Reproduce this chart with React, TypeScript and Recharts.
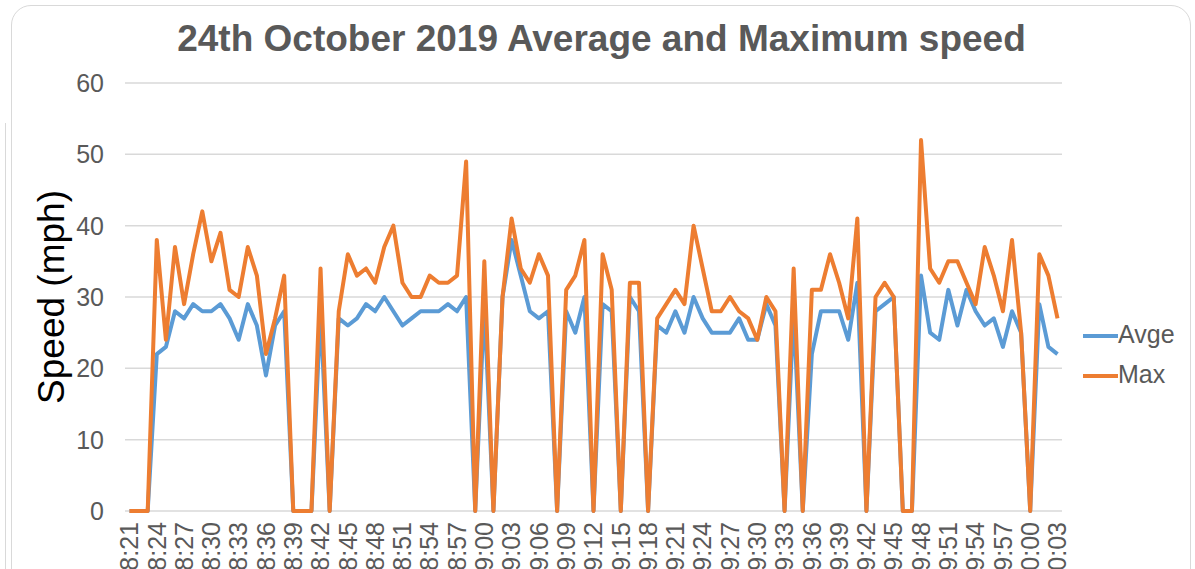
import React from 'react';
import { LineChart, Line, XAxis, YAxis, CartesianGrid } from 'recharts';

const times = [
  '08:21','08:22','08:23','08:24','08:25','08:26','08:27','08:28','08:29','08:30',
  '08:31','08:32','08:33','08:34','08:35','08:36','08:37','08:38','08:39','08:40',
  '08:41','08:42','08:43','08:44','08:45','08:46','08:47','08:48','08:49','08:50',
  '08:51','08:52','08:53','08:54','08:55','08:56','08:57','08:58','08:59','09:00',
  '09:01','09:02','09:03','09:04','09:05','09:06','09:07','09:08','09:09','09:10',
  '09:11','09:12','09:13','09:14','09:15','09:16','09:17','09:18','09:19','09:20',
  '09:21','09:22','09:23','09:24','09:25','09:26','09:27','09:28','09:29','09:30',
  '09:31','09:32','09:33','09:34','09:35','09:36','09:37','09:38','09:39','09:40',
  '09:41','09:42','09:43','09:44','09:45','09:46','09:47','09:48','09:49','09:50',
  '09:51','09:52','09:53','09:54','09:55','09:56','09:57','09:58','09:59','10:00',
  '10:01','10:02','10:03',
];

const avge = [
  0, 0, 0, 22, 23, 28, 27, 29, 28, 28,
  29, 27, 24, 29, 26, 19, 26, 28, 0, 0,
  0, 28, 0, 27, 26, 27, 29, 28, 30, 28,
  26, 27, 28, 28, 28, 29, 28, 30, 0, 29,
  0, 30, 38, 33, 28, 27, 28, 0, 28, 25,
  30, 0, 29, 28, 0, 30, 28, 0, 26, 25,
  28, 25, 30, 27, 25, 25, 25, 27, 24, 24,
  29, 26, 0, 28, 0, 22, 28, 28, 28, 24,
  32, 0, 28, 29, 30, 0, 0, 33, 25, 24,
  31, 26, 31, 28, 26, 27, 23, 28, 25, 0,
  29, 23, 22,
];

const maxSpeed = [
  0, 0, 0, 38, 24, 37, 29, 36, 42, 35,
  39, 31, 30, 37, 33, 22, 27, 33, 0, 0,
  0, 34, 0, 28, 36, 33, 34, 32, 37, 40,
  32, 30, 30, 33, 32, 32, 33, 49, 0, 35,
  0, 30, 41, 34, 32, 36, 33, 0, 31, 33,
  38, 0, 36, 31, 0, 32, 32, 0, 27, 29,
  31, 29, 40, 34, 28, 28, 30, 28, 27, 24,
  30, 28, 0, 34, 0, 31, 31, 36, 32, 27,
  41, 0, 30, 32, 30, 0, 0, 52, 34, 32,
  35, 35, 32, 29, 37, 33, 28, 38, 25, 0,
  36, 33, 27,
];

const yTicks = [0, 10, 20, 30, 40, 50, 60];

const data = times.map((t, i) => ({ time: t, Avge: avge[i], Max: maxSpeed[i] }));

const FONT = '"Liberation Sans", Arial, Helvetica, sans-serif';
const BLUE = '#5B9BD5';
const ORANGE = '#ED7D31';
const GREY_TEXT = '#595959';

const XTick = (props: any) => {
  const { x, y, payload } = props;
  return (
    <g transform={`translate(${x},${y + 3})`}>
      <text
        transform="rotate(-90)"
        textAnchor="end"
        dy="0.35em"
        fill={GREY_TEXT}
        fontSize={25}
        fontFamily={FONT}
      >
        {payload.value}
      </text>
    </g>
  );
};

const legendItems = [
  { name: 'Avge', color: BLUE },
  { name: 'Max', color: ORANGE },
];

export default function App() {
  return (
    <div
      style={{
        position: 'absolute',
        left: 0,
        top: 0,
        width: 1195,
        height: 569,
        overflow: 'hidden',
        background: '#fff',
        fontFamily: FONT,
      }}
    >
      <div
        style={{
          position: 'absolute',
          left: 5,
          top: 123,
          width: 0,
          height: 460,
          borderLeft: '1.5px solid #D9D9D9',
        }}
      />
      <div
        style={{
          position: 'absolute',
          left: 11,
          top: 5,
          width: 1180,
          height: 600,
          border: '1.5px solid #D9D9D9',
          borderRadius: 20,
          boxSizing: 'border-box',
        }}
      />
      <div
        style={{
          position: 'absolute',
          left: 0,
          top: 18,
          width: 1203,
          textAlign: 'center',
          fontSize: 37,
          fontWeight: 'bold',
          color: GREY_TEXT,
          fontFamily: FONT,
          lineHeight: '42px',
        }}
      >
        24th October 2019 Average and Maximum speed
      </div>
      <div style={{ position: 'absolute', left: 0, top: 0 }}>
        <LineChart
          width={1195}
          height={569}
          data={data}
          margin={{ top: 83, right: 133, bottom: 0, left: 0 }}
        >
          <CartesianGrid vertical={false} stroke="#D9D9D9" strokeWidth={1.5} />
          <XAxis
            dataKey="time"
            interval={2}
            axisLine={false}
            tickLine={false}
            height={58}
            padding={{ left: 4.5, right: 4.5 }}
            tick={<XTick />}
          />
          <YAxis
            domain={[0, 60]}
            ticks={yTicks}
            axisLine={false}
            tickLine={false}
            width={125}
            tickMargin={15}
            tick={{ fill: GREY_TEXT, fontSize: 25, fontFamily: FONT }}
            label={(p: any) => {
              const vb = p.viewBox || {};
              const cy = (vb.y ?? 83) + (vb.height ?? 428) / 2;
              return (
                <text
                  x={64}
                  y={cy}
                  transform={`rotate(-90, 64, ${cy})`}
                  textAnchor="middle"
                  fontSize={37}
                  fill="#000"
                  fontFamily={FONT}
                >
                  Speed (mph)
                </text>
              );
            }}
          />
          <Line
            type="linear"
            dataKey="Avge"
            stroke={BLUE}
            strokeWidth={4}
            dot={false}
            isAnimationActive={false}
            strokeLinejoin="round"
          />
          <Line
            type="linear"
            dataKey="Max"
            stroke={ORANGE}
            strokeWidth={4}
            dot={false}
            isAnimationActive={false}
            strokeLinejoin="round"
          />
        </LineChart>
      </div>
      <svg
        width={110}
        height={80}
        style={{ position: 'absolute', left: 1083, top: 318, overflow: 'visible' }}
      >
        {legendItems.map((item, i) => (
          <g key={item.name}>
            <line x1={0} y1={18 + i * 40} x2={35} y2={18 + i * 40} stroke={item.color} strokeWidth={4} />
            <text x={35} y={25 + i * 40} fontSize={25} fill={GREY_TEXT} fontFamily={FONT}>
              {item.name}
            </text>
          </g>
        ))}
      </svg>
    </div>
  );
}
